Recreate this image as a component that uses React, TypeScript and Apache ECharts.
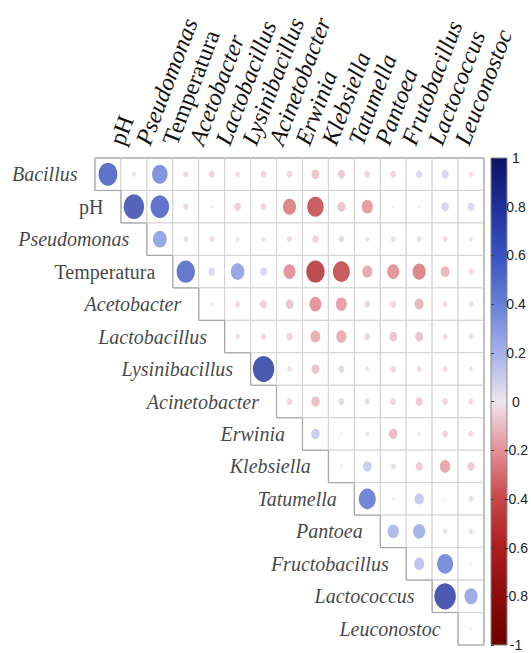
import React, { useEffect, useRef } from "react";
import * as echarts from "echarts";

const rowLabels = [
  "Bacillus", "pH", "Pseudomonas", "Temperatura", "Acetobacter", "Lactobacillus",
  "Lysinibacillus", "Acinetobacter", "Erwinia", "Klebsiella", "Tatumella",
  "Pantoea", "Fructobacillus", "Lactococcus", "Leuconostoc",
];
const colLabels = [
  "pH", "Pseudomonas", "Temperatura", "Acetobacter", "Lactobacillus", "Lysinibacillus",
  "Acinetobacter", "Erwinia", "Klebsiella", "Tatumella", "Pantoea", "Frutobacillus",
  "Lactococcus", "Leuconostoc",
];
const uprightLabels = ["pH", "Temperatura"];

// upper-triangle rows: row r holds columns r..14
const bacillus = [0.62, -0.03, 0.42, -0.05, -0.06, -0.04, -0.06, -0.06, -0.11, -0.09, -0.06, -0.06, 0.07, 0.09, -0.04];
const ph = [0.72, 0.6, -0.05, -0.015, -0.08, -0.06, -0.3, -0.47, -0.11, -0.22, -0.015, 0.01, 0.1, 0.08];
const pseudomonas = [0.33, -0.04, -0.045, -0.03, -0.03, -0.045, -0.07, -0.05, -0.03, -0.045, -0.04, -0.04, -0.03];
const temperatura = [0.58, 0.08, 0.32, 0.08, -0.25, -0.58, -0.5, -0.18, -0.25, -0.3, -0.14, -0.05];
const acetobacter = [-0.015, -0.05, -0.08, -0.11, -0.25, -0.21, -0.06, -0.06, -0.14, -0.045, -0.04];
const lactobacillus = [-0.04, -0.05, -0.07, -0.17, -0.18, -0.06, -0.11, -0.11, -0.045, -0.04];
const lysinibacillus = [0.8, -0.04, -0.11, -0.06, -0.03, -0.06, -0.045, -0.045, -0.03];
const acinetobacter = [-0.06, -0.12, 0.06, -0.045, -0.06, -0.085, -0.06, -0.045];
const erwinia = [0.13, -0.008, -0.03, -0.13, 0.02, -0.06, -0.045];
const klebsiella = [-0.008, 0.13, -0.04, -0.09, -0.19, -0.09];
const tatumella = [0.5, 0.008, 0.15, -0.008, -0.04];
const pantoea = [0.22, 0.26, -0.035, -0.035];
const fructobacillus = [0.18, 0.45, 0.008];
const lactococcus = [0.8, 0.3];
const leuconostoc = [0.008];

const corrRows = [
  bacillus, ph, pseudomonas, temperatura, acetobacter, lactobacillus, lysinibacillus,
  acinetobacter, erwinia, klebsiella, tatumella, pantoea, fructobacillus, lactococcus, leuconostoc,
];

// colours from -1 to 1 in steps of 0.2
const palette = [
  "#6a0000", "#8e0a0a", "#ab1e1e", "#c84646", "#e49098", "#efe6ef",
  "#a4b2ea", "#6780d8", "#3a52bf", "#1f309c", "#0a1462",
];

export default function App() {
  const ref = useRef<HTMLDivElement>(null);
  useEffect(() => {
    if (!ref.current) return;
    const chart = echarts.init(ref.current, null, { renderer: "svg" });
    const N = rowLabels.length;
    const cats = Array.from({ length: N }, (_, i) => String(i));
    const cells: number[][] = [];
    const points: number[][] = [];
    corrRows.forEach((row, r) =>
      row.forEach((v, k) => {
        cells.push([r + k, r]);
        points.push([r + k, r, v]);
      })
    );
    const serif = "'Liberation Serif', 'Times New Roman', serif";
    const stops = palette
      .slice()
      .reverse()
      .map((c, i) => ({ offset: i / (palette.length - 1), color: c }));

    chart.setOption({
      animation: false,
      backgroundColor: "#ffffff",
      grid: [
        { left: 95, top: 158, width: 389, height: 487 },
        { left: 491, top: 158, width: 16, height: 487 },
        { left: 103, top: 158, width: 372, height: 1 },
      ],
      xAxis: [
        { gridIndex: 0, type: "category", data: cats, show: false },
        { gridIndex: 1, type: "value", min: 0, max: 1, show: false },
        {
          gridIndex: 2,
          type: "category",
          position: "top",
          data: colLabels.map((l) => ({
            value: l,
            textStyle: { fontStyle: uprightLabels.includes(l) ? "normal" : "italic" },
          })),
          axisLine: { show: false },
          axisTick: { show: false },
          splitLine: { show: false },
          axisLabel: {
            interval: 0,
            rotate: 69,
            margin: 14,
            fontFamily: serif,
            fontSize: 24,
            color: "#111",
          },
        },
      ],
      yAxis: [
        { gridIndex: 0, type: "category", data: cats, inverse: true, show: false },
        {
          gridIndex: 1,
          type: "value",
          min: -1,
          max: 1,
          interval: 0.2,
          position: "right",
          axisLine: { show: false },
          axisTick: { show: true, length: 3, lineStyle: { color: "#444" } },
          splitLine: { show: false },
          axisLabel: {
            margin: 16,
            align: "center",
            fontFamily: "'Liberation Sans', Arial, sans-serif",
            fontSize: 14,
            color: "#222",
            formatter: (v: number) => String(Math.round(v * 10) / 10),
          },
        },
        { gridIndex: 2, type: "value", show: false },
      ],
      visualMap: {
        type: "continuous",
        show: false,
        seriesIndex: 1,
        dimension: 2,
        min: -1,
        max: 1,
        inRange: { color: palette },
      },
      graphic: [
        {
          type: "rect",
          shape: { x: 491, y: 158, width: 16, height: 487 },
          style: {
            fill: new echarts.graphic.LinearGradient(0, 0, 0, 1, stops),
            stroke: "#888",
            lineWidth: 1,
          },
          z: 0,
        },
      ],
      series: [
        {
          type: "custom",
          xAxisIndex: 0,
          yAxisIndex: 0,
          silent: true,
          z: 1,
          encode: { x: 0, y: 1 },
          data: cells,
          renderItem: (params: any, api: any) => {
            const c = api.value(0);
            const r = api.value(1);
            const p = api.coord([c, r]);
            const s = api.size([1, 1]);
            const x0 = p[0] - s[0] / 2;
            const y0 = p[1] - s[1] / 2;
            const x1 = x0 + s[0];
            const y1 = y0 + s[1];
            const dark = { stroke: "#a6a6a6", lineWidth: 1.2 };
            const children: any[] = [
              {
                type: "rect",
                shape: { x: x0, y: y0, width: s[0], height: s[1] },
                style: { fill: "#fff", stroke: "#d2d2d2", lineWidth: 1 },
              },
            ];
            if (c === r) {
              children.push({ type: "line", shape: { x1: x0, y1: y0, x2: x0, y2: y1 }, style: dark });
              children.push({ type: "line", shape: { x1: x0, y1: y1, x2: x1, y2: y1 }, style: dark });
            }
            if (r === 0) {
              children.push({ type: "line", shape: { x1: x0, y1: y0, x2: x1, y2: y0 }, style: dark });
            }
            if (c === N - 1) {
              children.push({ type: "line", shape: { x1: x1, y1: y0, x2: x1, y2: y1 }, style: dark });
            }
            return { type: "group", children };
          },
        },
        {
          type: "scatter",
          xAxisIndex: 0,
          yAxisIndex: 0,
          silent: true,
          z: 3,
          symbol: "circle",
          symbolSize: (val: number[]) => {
            const d = Math.max(2, 24 * Math.sqrt(Math.abs(val[2])));
            return [d, d * 1.22];
          },
          data: points,
        },
        {
          type: "scatter",
          xAxisIndex: 0,
          yAxisIndex: 0,
          silent: true,
          z: 4,
          symbolSize: 1,
          itemStyle: { color: "rgba(0,0,0,0)" },
          label: {
            show: true,
            position: "left",
            distance: 30,
            fontFamily: serif,
            fontSize: 20,
            color: "#111",
          },
          data: rowLabels.map((name, r) => ({
            value: [r, r],
            label: {
              formatter: name,
              fontStyle: uprightLabels.includes(name) ? "normal" : "italic",
            },
          })),
        },
      ],
    });
    return () => chart.dispose();
  }, []);
  return (
    <div
      ref={ref}
      style={{ position: "absolute", left: 0, top: 0, width: 531, height: 653, background: "#fff" }}
    />
  );
}
